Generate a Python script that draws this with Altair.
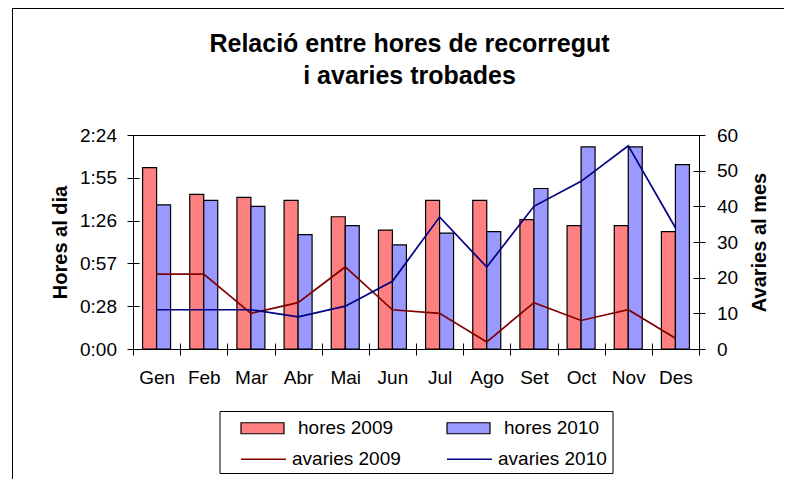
import altair as alt
import pandas as pd

# ---------------- data ----------------
mesos = ["Gen", "Feb", "Mar", "Abr", "Mai", "Jun", "Jul", "Ago", "Set", "Oct", "Nov", "Des"]
# hours per day, in minutes
hores_2009 = [122, 104, 102, 100, 89, 80, 100, 100, 87, 83, 83, 79]
hores_2010 = [97, 100, 96, 77, 83, 70, 78, 79, 108, 136, 136, 124]
# breakdowns per month
avaries_2009 = [21, 21, 10, 13, 23, 11, 10, 2, 13, 8, 11, 3]
avaries_2010 = [11, 11, 11, 9, 12, 19, 37, 23, 40, 47, 57, 34]

hores_ticks = [0, 28.8, 57.6, 86.4, 115.2, 144]      # 0:00 ... 2:24
avaries_ticks = [0, 10, 20, 30, 40, 50, 60]
series_hores = ["hores 2009", "hores 2010"]
series_avaries = ["avaries 2009", "avaries 2010"]
title_lines = ["Relació entre hores de recorregut", "i avaries trobades"]

bars_df = pd.DataFrame({
    "mes": mesos * 2,
    "serie": [series_hores[0]] * 12 + [series_hores[1]] * 12,
    "minuts": hores_2009 + hores_2010,
})
lines_df = pd.DataFrame({
    "mes": mesos * 2,
    "serie": [series_avaries[0]] * 12 + [series_avaries[1]] * 12,
    "avaries": avaries_2009 + avaries_2010,
})
frame_df = pd.DataFrame({"k": [0]})

FONT = "Liberation Sans"
W, H = 566, 214

x_enc = alt.X(
    "mes:N", sort=mesos,
    scale=alt.Scale(paddingInner=0, paddingOuter=0),
    axis=alt.Axis(title=None, tickBand="extent", domain=False, offset=-6, tickSize=12,
                  tickColor="black", labelPadding=13, labelFontSize=19, labelFont=FONT,
                  labelColor="black", labelAngle=0),
)

bars = alt.Chart(bars_df).mark_bar(stroke="black", strokeWidth=1.2).encode(
    x=x_enc,
    xOffset=alt.XOffset("serie:N", sort=series_hores,
                        scale=alt.Scale(paddingOuter=0.685, paddingInner=0)),
    y=alt.Y("minuts:Q",
            scale=alt.Scale(domain=[0, 144], nice=False, zero=True),
            axis=alt.Axis(
                title="Hores al dia", values=hores_ticks,
                labelExpr="floor(datum.value/60) + ':' + (floor(datum.value%60) < 10 ? '0' : '') + floor(datum.value%60)",
                domain=False, offset=-6, tickSize=12, tickColor="black", labelPadding=10.5,
                labelFontSize=19, labelFont=FONT, labelColor="black",
                titleFont=FONT, titleFontSize=20, titleFontWeight="bold", titleColor="black",
                titleAngle=-90, titleX=-73, titleY=107, titleAlign="center",
                titleBaseline="alphabetic")),
    fill=alt.Fill("serie:N",
                  scale=alt.Scale(domain=series_hores, range=["#FF8080", "#9999FF"]),
                  legend=alt.Legend(
                      orient="none", legendX=107, legendY=270.5, direction="horizontal",
                      columns=2, title=None, padding=0,
                      symbolType="M-1,-0.256L1,-0.256L1,0.256L-1,0.256Z",
                      symbolSize=1849, symbolStrokeColor="black", symbolStrokeWidth=1.2,
                      symbolOpacity=1, labelFontSize=19, labelFont=FONT, labelColor="black",
                      labelOffset=13, columnPadding=50)),
)

lines = alt.Chart(lines_df).mark_line(strokeWidth=1.7).encode(
    x=x_enc,
    y=alt.Y("avaries:Q",
            scale=alt.Scale(domain=[0, 60], nice=False),
            axis=alt.Axis(
                title="Avaries al mes", orient="right", values=avaries_ticks,
                domain=False, offset=-6, tickSize=12, tickColor="black", labelPadding=11.5,
                labelFontSize=19, labelFont=FONT, labelColor="black",
                titleFont=FONT, titleFontSize=20, titleFontWeight="bold", titleColor="black",
                titleAngle=-90, titleX=72, titleY=107, titleAlign="center",
                titleBaseline="alphabetic")),
    stroke=alt.Stroke("serie:N",
                      scale=alt.Scale(domain=series_avaries, range=["#800000", "#000080"]),
                      legend=alt.Legend(
                          orient="none", legendX=107, legendY=300.5, direction="horizontal",
                          columns=2, title=None, padding=0, symbolType="stroke",
                          symbolSize=2025, symbolStrokeWidth=1.6,
                          labelFontSize=19, labelFont=FONT, labelColor="black",
                          labelOffset=5, columnPadding=42)),
)

# decorative frames (chart border and legend box)
left_border = alt.Chart(frame_df).mark_rule(color="black", strokeWidth=1).encode(
    x=alt.value(-120.5), y=alt.value(-127), y2=alt.value(344))
top_border = alt.Chart(frame_df).mark_rule(color="black", strokeWidth=1).encode(
    x=alt.value(-120.5), x2=alt.value(651), y=alt.value(-126.5))
legend_box = alt.Chart(frame_df).mark_rect(fillOpacity=0, stroke="black", strokeWidth=1).encode(
    x=alt.value(87), x2=alt.value(480), y=alt.value(276.5), y2=alt.value(338.5))

chart = alt.layer(bars, lines, left_border, top_border, legend_box).resolve_scale(
    y="independent"
).properties(
    width=W, height=H,
    autosize=alt.AutoSizeParams(type="none"),
    padding={"left": 125, "top": 127, "right": 85, "bottom": 130},
    title=alt.TitleParams(text=title_lines, fontSize=25, font=FONT, fontWeight="bold",
                          color="black", anchor="middle", frame="group", offset=-81,
                          dx=-6.5, lineHeight=32),
    background="white",
).configure_view(
    stroke="black", strokeWidth=1
).configure_axis(
    grid=False
)

chart.save("out.html", embed_options={"renderer": "svg", "actions": False})
